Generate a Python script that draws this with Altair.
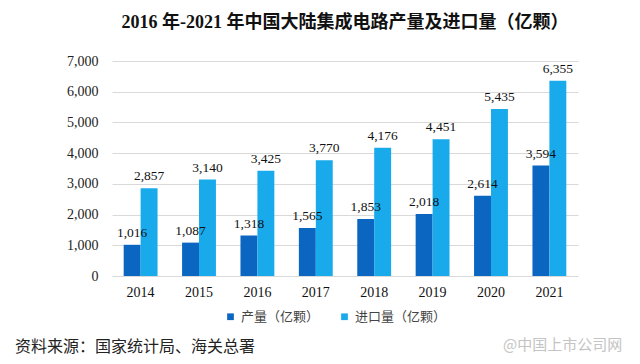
import altair as alt
import pandas as pd

years = ["2014", "2015", "2016", "2017", "2018", "2019", "2020", "2021"]
production = [1016, 1087, 1318, 1565, 1853, 2018, 2614, 3594]
imports = [2857, 3140, 3425, 3770, 4176, 4451, 5435, 6355]
series = ["产量（亿颗）", "进口量（亿颗）"]
colors = ["#0B66C2", "#19AAEC"]

rows = []
for i, y in enumerate(years):
    rows.append({"year": y, "series": series[0], "value": production[i]})
    rows.append({"year": y, "series": series[1], "value": imports[i]})
df = pd.DataFrame(rows)

serif = "Liberation Serif, Noto Sans CJK SC"

x = alt.X("year:N", title=None,
          scale=alt.Scale(paddingInner=0.42, paddingOuter=0.2),
          axis=alt.Axis(labelAngle=0, labelFont=serif, labelFontSize=14, labelColor="#111",
                        ticks=False, domain=False, labelPadding=9))
xo = alt.XOffset("series:N", sort=series, scale=alt.Scale(paddingInner=0))
y = alt.Y("value:Q", title=None,
          scale=alt.Scale(domain=[0, 7000]),
          axis=alt.Axis(values=list(range(0, 7001, 1000)), format=",.0f", labelFont=serif,
                        labelFontSize=14, labelColor="#222", ticks=False, domain=False,
                        labelPadding=14, gridColor="#d9d9d9", gridWidth=1))

base = alt.Chart(df)
bars = base.mark_bar().encode(
    x=x, xOffset=xo, y=y,
    color=alt.Color("series:N", sort=series,
                    scale=alt.Scale(domain=series, range=colors),
                    legend=alt.Legend(title=None, orient="none", direction="horizontal",
                                      legendX=112, legendY=249, symbolType="square",
                                      symbolSize=45, labelFont="Noto Sans CJK SC",
                                      labelFontSize=13, labelColor="#444",
                                      columnPadding=18, symbolStrokeWidth=0)),
)
labels = base.mark_text(dy=-12, font="Liberation Serif", fontSize=13.5, color="#111").encode(
    x=x, xOffset=xo, y=y, text=alt.Text("value:Q", format=",.0f")
)

note = pd.DataFrame({"t": ["资料来源：国家统计局、海关总署"]})
source = alt.Chart(note).mark_text(align="left", baseline="middle", font="Noto Sans CJK SC",
                                    fontSize=16, color="#222").encode(
    x=alt.value(-97), y=alt.value(286), text="t:N")
wm = pd.DataFrame({"t": ["@中国上市公司网"]})
water = alt.Chart(wm).mark_text(align="left", baseline="middle", font="Noto Sans CJK SC",
                                 fontSize=15, color="#c4c4c4").encode(
    x=alt.value(391), y=alt.value(284), text="t:N")

chart = alt.layer(bars, labels, source, water).properties(
    width=466, height=215,
    autosize=alt.AutoSizeParams(type="none"),
    padding={"left": 104, "top": 53, "right": 54, "bottom": 80},
    title=alt.TitleParams("2016 年-2021 年中国大陆集成电路产量及进口量（亿颗）",
                          font=serif, fontSize=18, fontWeight="bold", color="#111",
                          anchor="middle", offset=22),
    background="white",
).configure_view(stroke=None)

chart.save("out.html", embed_options={"renderer": "svg", "actions": False})
